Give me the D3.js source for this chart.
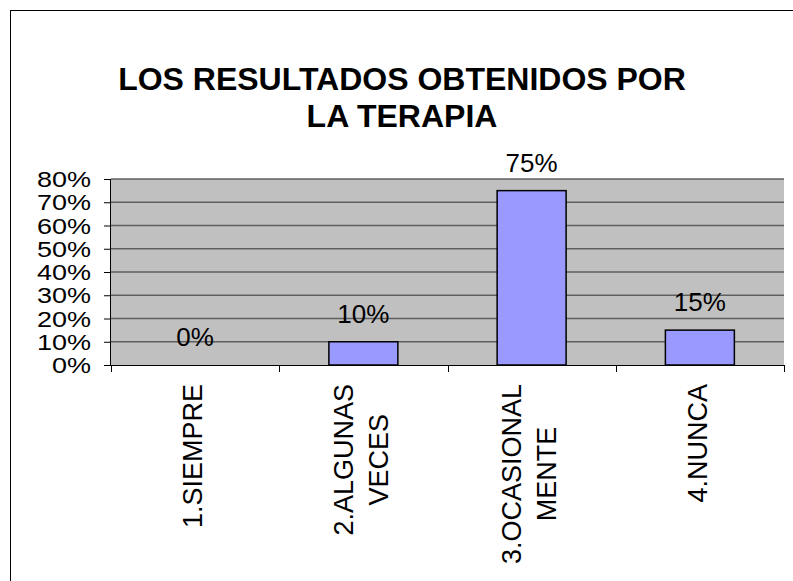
<!DOCTYPE html>
<html>
<head>
<meta charset="utf-8">
<script src="https://cdn.jsdelivr.net/npm/d3@7"></script>
<style>
  body { margin: 0; background: #fff; }
  text { font-family: "Liberation Sans", Arial, sans-serif; fill: #000; }
</style>
</head>
<body>
<svg id="viz"></svg>
<script>
// data
var categories = [['1.SIEMPRE'], ['2.ALGUNAS', 'VECES'], ['3.OCASIONAL', 'MENTE'], ['4.NUNCA']];
var values = [0, 0.10, 0.75, 0.15];
var yTicks = [0, 0.1, 0.2, 0.3, 0.4, 0.5, 0.6, 0.7, 0.8];
var titleLines = ['LOS RESULTADOS OBTENIDOS POR', 'LA TERAPIA'];

var width = 793;
var height = 581;
var plot = { left: 111, right: 784, top: 179, bottom: 365 };

var svg = d3.select('#viz')
            .attr('width', width)
            .attr('height', height);

// outer chart frame (runs off the right and bottom edges)
svg.append('rect')
   .attr('x', 10.5).attr('y', 10.5)
   .attr('width', 820).attr('height', 620)
   .attr('fill', '#fff')
   .attr('stroke', '#000')
   .attr('stroke-width', 1);

// title
svg.selectAll('.title')
   .data(titleLines)
   .enter()
   .append('text')
   .attr('class', 'title')
   .attr('x', 402)
   .attr('y', (d, i) => 90 + i * 37)
   .attr('text-anchor', 'middle')
   .style('font-size', '32px')
   .style('font-weight', 'bold')
   .text(d => d);

var xScale = d3.scaleBand()
               .domain(categories.map(d => d.join(' ')))
               .range([plot.left, plot.right])
               .padding(0);

var yScale = d3.scaleLinear()
               .domain([0, 0.8])
               .range([plot.bottom, plot.top]);

// plot background
svg.append('rect')
   .attr('x', plot.left).attr('y', plot.top)
   .attr('width', plot.right - plot.left)
   .attr('height', plot.bottom - plot.top)
   .attr('fill', '#c0c0c0');

// gridlines
svg.append('g')
   .selectAll('line')
   .data(yTicks.slice(1))
   .enter()
   .append('line')
   .attr('x1', plot.left).attr('x2', plot.right)
   .attr('y1', d => yScale(d)).attr('y2', d => yScale(d))
   .attr('stroke', '#5f5f5f')
   .attr('stroke-width', 1.5);

// y axis
var yAxis = d3.axisLeft(yScale)
              .tickValues(yTicks)
              .tickSize(7)
              .tickFormat(d3.format('.0%'));

var yAxisG = svg.append('g')
                .attr('transform', `translate(${plot.left},0)`)
                .call(yAxis);
yAxisG.select('.domain').attr('stroke', '#000').attr('d', `M-0.5,${plot.top}V${plot.bottom}`);
yAxisG.selectAll('.tick line').attr('stroke', '#000');
yAxisG.selectAll('.tick text')
      .attr('x', null).attr('dy', null)
      .style('font-size', '27px')
      .attr('font-family', null)
      .attr('transform', 'translate(-20,7.5) scale(1,0.8)');

// x axis
var xAxis = d3.axisBottom(xScale).tickSize(0).tickFormat('');
var xAxisG = svg.append('g')
                .attr('transform', `translate(0,${plot.bottom})`)
                .call(xAxis);
xAxisG.select('.domain').attr('stroke', '#000').attr('d', `M${plot.left},0.5H${plot.right}`);

// category boundary ticks
var bounds = xScale.domain().map(d => xScale(d)).concat([plot.right]);
xAxisG.selectAll('.bound')
      .data(bounds)
      .enter()
      .append('line')
      .attr('class', 'bound')
      .attr('x1', d => Math.round(d) + 0.5).attr('x2', d => Math.round(d) + 0.5)
      .attr('y1', 0).attr('y2', 7)
      .attr('stroke', '#000');

// bars
var barW = xScale.bandwidth() * 0.41;
svg.append('g')
   .selectAll('rect')
   .data(values)
   .enter()
   .append('rect')
   .attr('x', (d, i) => xScale(categories[i].join(' ')) + xScale.bandwidth() / 2 - barW / 2)
   .attr('y', d => yScale(d))
   .attr('width', barW)
   .attr('height', d => yScale(0) - yScale(d))
   .attr('fill', '#9999ff')
   .attr('stroke', '#000')
   .attr('stroke-width', 1.5)
   .style('display', d => d > 0 ? null : 'none');

// value labels
svg.append('g')
   .selectAll('text')
   .data(values)
   .enter()
   .append('text')
   .attr('x', (d, i) => xScale(categories[i].join(' ')) + xScale.bandwidth() / 2)
   .attr('y', d => yScale(d) - 19)
   .attr('text-anchor', 'middle')
   .style('font-size', '26px')
   .text(d => d3.format('.0%')(d));

// category labels, rotated
var capH = 27 * 0.716;
categories.forEach(function(lines, i) {
    var cx = xScale(lines.join(' ')) + xScale.bandwidth() / 2 - 3;
    var g = svg.append('g');
    var texts = g.selectAll('text')
                 .data(lines)
                 .enter()
                 .append('text')
                 .style('font-size', '27px')
                 .attr('text-anchor', 'middle')
                 .text(d => d);
    var maxLen = d3.max(texts.nodes(), n => n.getComputedTextLength());
    var cy = 384 + maxLen / 2;
    texts.attr('transform', (d, j) => {
        var bx = cx + (j - (lines.length - 1) / 2) * 35 + capH / 2;
        return `translate(${bx},${cy}) rotate(-90)`;
    });
});
</script>
</body>
</html>
